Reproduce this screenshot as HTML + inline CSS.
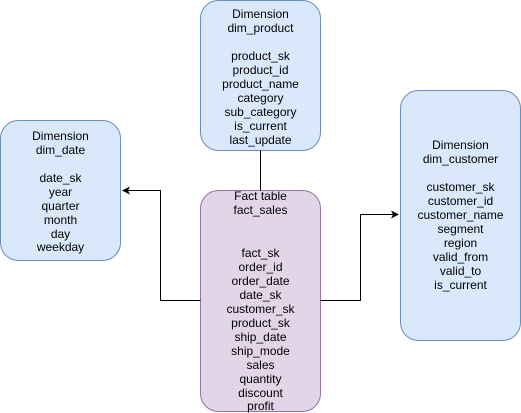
<!DOCTYPE html>
<html><head><style>body{margin:0;background:#fff}svg{display:block}</style></head>
<body>
<svg width="521" height="413" xmlns="http://www.w3.org/2000/svg" font-family="Liberation Sans, Arial, sans-serif" font-size="12" fill="#000">
<defs><marker id="a" markerWidth="10" markerHeight="10" refX="7" refY="4" orient="auto" markerUnits="userSpaceOnUse"><path d="M0,0 L8,4 L0,8 L2,4 Z" fill="#000"/></marker></defs>
<rect x="200.5" y="0.5" width="120" height="150" rx="18" fill="#dae8fc" stroke="#6c8ebf"/>
<rect x="0.5" y="120.5" width="120" height="140" rx="18" fill="#dae8fc" stroke="#6c8ebf"/>
<rect x="400.5" y="90.5" width="120" height="250" rx="18" fill="#dae8fc" stroke="#6c8ebf"/>
<rect x="200.5" y="190.5" width="120" height="221" rx="18" fill="#e1d5e7" stroke="#9673a6"/>
<path d="M260.5 150.5 V190.5" stroke="#000" fill="none"/>
<path d="M200.5 300.5 H160.5 V190.5 H123" stroke="#000" fill="none" marker-end="url(#a)"/>
<path d="M320.5 300.5 H360.5 V214.5 H398" stroke="#000" fill="none" marker-end="url(#a)"/>
<g text-anchor="middle" dominant-baseline="central">
<text x="260.5" y="14">Dimension</text><text x="260.5" y="28">dim_product</text>
<text x="260.5" y="56">product_sk</text><text x="260.5" y="70">product_id</text><text x="260.5" y="84">product_name</text><text x="260.5" y="98">category</text><text x="260.5" y="112">sub_category</text><text x="260.5" y="126">is_current</text><text x="260.5" y="140">last_update</text>
<text x="60.5" y="136">Dimension</text><text x="60.5" y="150">dim_date</text>
<text x="60.5" y="178">date_sk</text><text x="60.5" y="192">year</text><text x="60.5" y="206">quarter</text><text x="60.5" y="220">month</text><text x="60.5" y="234">day</text><text x="60.5" y="247">weekday</text>
<text x="460.5" y="145">Dimension</text><text x="460.5" y="159">dim_customer</text>
<text x="460.5" y="187">customer_sk</text><text x="460.5" y="201">customer_id</text><text x="460.5" y="215">customer_name</text><text x="460.5" y="229">segment</text><text x="460.5" y="243">region</text><text x="460.5" y="257">valid_from</text><text x="460.5" y="271">valid_to</text><text x="460.5" y="285">is_current</text>
<text x="260.5" y="196">Fact table</text><text x="260.5" y="210">fact_sales</text>
<text x="260.5" y="253">fact_sk</text><text x="260.5" y="267">order_id</text><text x="260.5" y="281">order_date</text><text x="260.5" y="295">date_sk</text><text x="260.5" y="309">customer_sk</text><text x="260.5" y="323">product_sk</text><text x="260.5" y="337">ship_date</text><text x="260.5" y="351">ship_mode</text><text x="260.5" y="365">sales</text><text x="260.5" y="379">quantity</text><text x="260.5" y="393">discount</text><text x="260.5" y="406">profit</text>
</g>
</svg>
</body></html>
